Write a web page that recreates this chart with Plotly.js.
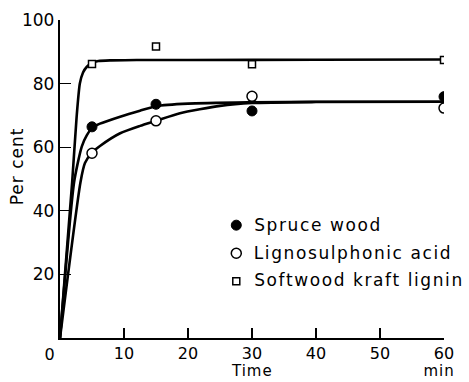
<!DOCTYPE html>
<html>
<head>
<meta charset="utf-8">
<script src="https://cdn.plot.ly/plotly-3.0.1.min.js"></script>
<style>
html,body{margin:0;padding:0;background:#fff;}
#chart{width:469px;height:382px;}
#chart .annotation-text{letter-spacing:1px;}
#chart .annotation.legtxt .annotation-text{letter-spacing:1.6px;}
</style>
</head>
<body>
<div id="chart"></div>
<script>
// Measured points
const sampleTimes = [5, 15, 30, 60];
const spruceWood = [66.4, 73.5, 71.4, 75.9];
const lignosulphonicAcid = [58.1, 68.3, 76.0, 72.3];
const softwoodKraftLignin = [86.2, 91.7, 86.1, 87.4];

// Fitted curves
const kraftCurveT = [0, 1.9, 2.6, 3.1, 3.6, 4.2, 5, 6, 8, 12, 20, 40, 60];
const kraftCurveY = [0, 49, 69.6, 80, 83.5, 85.3, 86.5, 87.1, 87.3, 87.4, 87.4, 87.5, 87.6];
const spruceCurveT = [0, 2.2, 3.4, 4.2, 5, 6.25, 9.4, 12.5, 15, 20, 30, 40, 60];
const spruceCurveY = [0, 49, 60.2, 63.8, 66.0, 67.4, 69.6, 71.5, 72.9, 73.7, 74.1, 74.3, 74.3];
const lignoCurveT = [0, 3.2, 3.9, 5, 6.25, 9.4, 12.5, 15, 18.75, 25, 30, 40, 60];
const lignoCurveY = [0, 49, 55, 58.3, 60.4, 64.4, 66.7, 68.3, 70.7, 73.0, 73.9, 74.2, 74.3];

const seriesNames = ['Spruce wood', 'Lignosulphonic acid', 'Softwood kraft lignin'];

const xTicks = [10, 20, 30, 40, 50, 60];
const xTickText = ['10', '20', '30', '40', '50', '60'];
const yTicks = [20, 40, 60, 80, 100];
const yTickText = ['20', '40', '60', '80', '100'];

const FONT = 'DejaVu Sans, sans-serif';
const LEG_SPACING = 1.6;
const lineStyle = {color: '#000', width: 2.6, shape: 'spline', smoothing: 0.6};

const traces = [
  {x: kraftCurveT, y: kraftCurveY, mode: 'lines', line: lineStyle, showlegend: false, hoverinfo: 'skip'},
  {x: spruceCurveT, y: spruceCurveY, mode: 'lines', line: lineStyle, showlegend: false, hoverinfo: 'skip'},
  {x: lignoCurveT, y: lignoCurveY, mode: 'lines', line: lineStyle, showlegend: false, hoverinfo: 'skip'},
  {x: sampleTimes, y: spruceWood, name: ' ', mode: 'markers', legendgroup: 'a',
   marker: {symbol: 'circle', size: 10, color: '#000', line: {color: '#000', width: 1}}},
  {x: sampleTimes, y: lignosulphonicAcid, name: ' ', mode: 'markers', legendgroup: 'b',
   marker: {symbol: 'circle', size: 10, color: '#fff', line: {color: '#000', width: 1.5}}},
  {x: sampleTimes, y: softwoodKraftLignin, name: ' ', mode: 'markers', legendgroup: 'c',
   marker: {symbol: 'square', size: 7, color: '#fff', line: {color: '#000', width: 1.5}}}
];

// legend label rows (paper y of each row centre)
const legendRowY = [0.355, 0.268, 0.182];
const legendAnnotations = seriesNames.map((name, i) => ({
  text: name, xref: 'paper', yref: 'paper', x: 0.50, y: legendRowY[i],
  xshift: name.length * LEG_SPACING / 2,
  showarrow: false, xanchor: 'left', yanchor: 'middle',
  font: {family: FONT, size: 17, color: '#000'}
}));

const layout = {
  width: 469, height: 382,
  margin: {l: 60, r: 25, t: 20, b: 44, pad: 0},
  paper_bgcolor: '#fff', plot_bgcolor: '#fff',
  font: {family: FONT, size: 17, color: '#000'},
  showlegend: true,
  legend: {x: 0.407, y: 0.41, xanchor: 'left', yanchor: 'top', bgcolor: 'rgba(0,0,0,0)',
           font: {family: FONT, size: 17, color: '#000'}, tracegroupgap: 3, itemwidth: 30},
  xaxis: {range: [0, 60], tickmode: 'array', tickvals: xTicks, ticktext: xTickText,
          ticks: 'inside', ticklen: 10, tickwidth: 1.3, tickcolor: '#000',
          showline: true, linecolor: '#000', linewidth: 2.2, showgrid: false, zeroline: false,
          tickfont: {family: FONT, size: 16, color: '#000'}, fixedrange: true},
  yaxis: {range: [0, 100], tickmode: 'array', tickvals: yTicks, ticktext: yTickText,
          ticks: 'inside', ticklen: 11, tickwidth: 1.3, tickcolor: '#000',
          showline: true, linecolor: '#000', linewidth: 2.2, showgrid: false, zeroline: false,
          tickfont: {family: FONT, size: 17, color: '#000'}, fixedrange: true},
  annotations: [
    {text: '0', xref: 'paper', yref: 'paper', x: 0, y: 0, xshift: -10, yshift: -16,
     showarrow: false, xanchor: 'center', yanchor: 'middle', font: {family: FONT, size: 16}},
    {text: 'Time', xref: 'x', yref: 'paper', x: 30, y: 0, yshift: -44,
     showarrow: false, xanchor: 'center', yanchor: 'bottom', font: {family: FONT, size: 15}},
    {text: 'min', xref: 'x', yref: 'paper', x: 60, y: 0, xshift: -5, yshift: -44,
     showarrow: false, xanchor: 'center', yanchor: 'bottom', font: {family: FONT, size: 15}},
    {text: 'Per cent', xref: 'paper', yref: 'paper', x: 0, xshift: -43, y: 0.54,
     textangle: -90, showarrow: false, xanchor: 'center', yanchor: 'middle', font: {family: FONT, size: 17}}
  ].concat(legendAnnotations)
};

Plotly.newPlot('chart', traces, layout, {displayModeBar: false, staticPlot: true}).then(() => {
  // tag legend label annotations for wider letter spacing
  document.querySelectorAll('#chart .annotation').forEach(g => {
    const t = g.querySelector('.annotation-text');
    if (t && seriesNames.includes(t.textContent)) g.classList.add('legtxt');
  });
});
</script>
</body>
</html>
